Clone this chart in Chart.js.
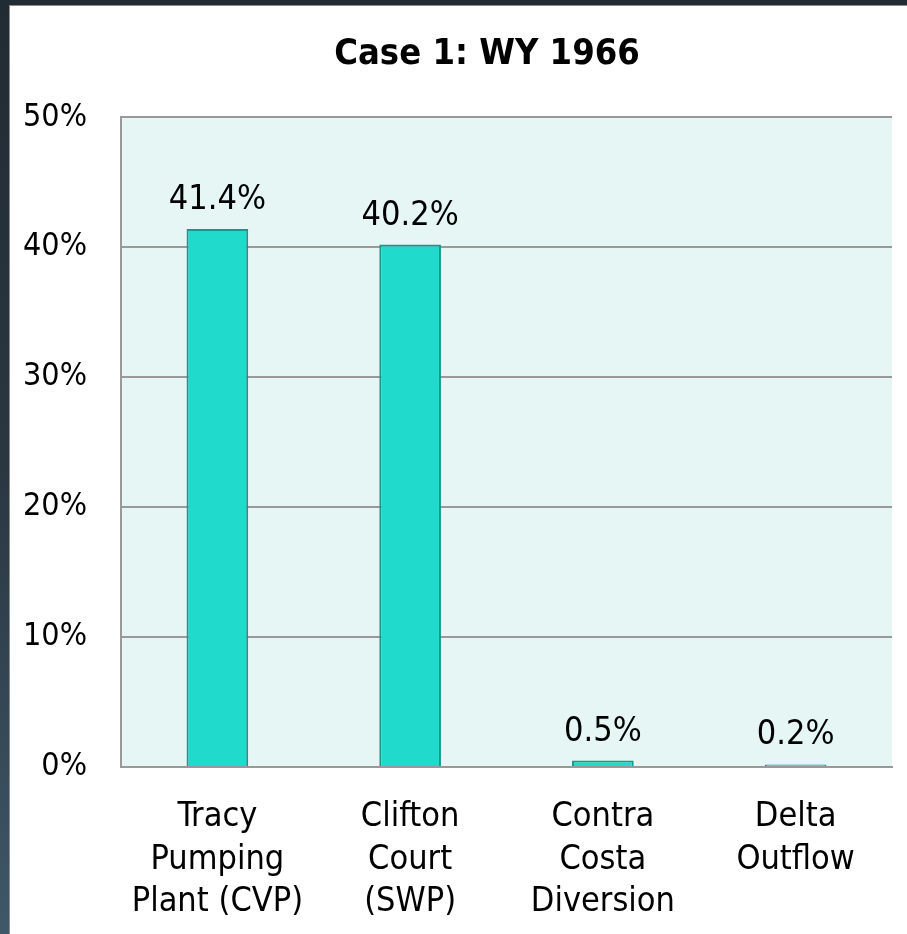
<!DOCTYPE html>
<html>
<head>
<meta charset="utf-8">
<title>Case 1: WY 1966</title>
<script src="https://cdn.jsdelivr.net/npm/chart.js@4"></script>
<style>
  html, body { margin: 0; padding: 0; }
  body {
    width: 907px; height: 934px; overflow: hidden; position: relative;
    background: linear-gradient(to bottom, #212b34 0%, #2a3741 50%, #3f5767 100%);
  }
  #panel {
    position: absolute; left: 9px; top: 5px; width: 960px; height: 940px;
    background: #fff; border-left: 1px solid #8c8c8c; border-top: 1px solid #8c8c8c;
    overflow: hidden;
  }
  #wrap { position: absolute; left: 0; top: 0; width: 954px; height: 929px; }
</style>
</head>
<body>
<div id="panel"><div id="wrap"><canvas id="shareChart"></canvas></div></div>
<script>
const chartTitle = 'Case 1: WY 1966';
const categories = [
  ['Tracy', 'Pumping', 'Plant (CVP)'],
  ['Clifton', 'Court', '(SWP)'],
  ['Contra', 'Costa', 'Diversion'],
  ['Delta', 'Outflow']
];
const shares = [41.4, 40.2, 0.5, 0.2];
const yTicks = [0, 10, 20, 30, 40, 50];

const FONT = "'Liberation Sans Narrow', 'DejaVu Sans Condensed', 'Arial Narrow', sans-serif";

// light cyan fill behind the plot
const plotBackground = {
  id: 'plotBackground',
  beforeDraw(chart) {
    const { ctx, chartArea: a } = chart;
    ctx.save();
    ctx.fillStyle = '#e6f6f5';
    ctx.fillRect(a.left, a.top, a.right - a.left, a.bottom - a.top);
    ctx.restore();
  }
};

// percentage label above each bar
const valueLabels = {
  id: 'valueLabels',
  afterDatasetsDraw(chart) {
    const ctx = chart.ctx;
    const meta = chart.getDatasetMeta(0);
    ctx.save();
    ctx.font = '34px ' + FONT;
    ctx.fillStyle = '#000';
    ctx.textAlign = 'center';
    ctx.textBaseline = 'alphabetic';
    meta.data.forEach((bar, i) => {
      ctx.fillText(shares[i].toFixed(1) + '%', bar.x, bar.y - 20);
    });
    ctx.restore();
  }
};

new Chart(document.getElementById('shareChart'), {
  type: 'bar',
  data: {
    labels: categories,
    datasets: [{
      data: shares,
      backgroundColor: '#20dacb',
      borderColor: '#14998d',
      borderWidth: 2,
      categoryPercentage: 1,
      barPercentage: 0.32
    }]
  },
  options: {
    responsive: true,
    maintainAspectRatio: false,
    animation: false,
    layout: { padding: 0 },
    plugins: {
      legend: { display: false },
      tooltip: { enabled: false },
      title: {
        display: true,
        text: chartTitle,
        color: '#000',
        font: { family: FONT, size: 36, weight: 'bold', lineHeight: 1.2 },
        padding: { top: 27, bottom: 41 }
      }
    },
    scales: {
      x: {
        grid: { display: false, drawTicks: false },
        border: { display: true, color: '#999', width: 2 },
        ticks: {
          color: '#000',
          padding: 29,
          maxRotation: 0,
          autoSkip: false,
          font: { family: FONT, size: 34, lineHeight: 1.25 }
        },
        afterFit(scale) { scale.height = 168; }
      },
      y: {
        min: 0,
        max: 50,
        afterBuildTicks(scale) { scale.ticks = yTicks.map(v => ({ value: v })); },
        grid: { color: '#999', lineWidth: 2, drawTicks: false },
        border: { display: true, color: '#999', width: 2 },
        ticks: {
          color: '#000',
          padding: 34,
          font: { family: FONT, size: 32 },
          callback: (value) => value + '%'
        },
        afterFit(scale) { scale.width = 111; }
      },
      // empty strip on the right so the plot stops short of the edge
      spacer: {
        position: 'right',
        min: 0,
        max: 50,
        grid: { display: false, drawTicks: false },
        border: { display: false },
        ticks: { display: false },
        afterFit(scale) { scale.width = 72; }
      }
    }
  },
  plugins: [plotBackground, valueLabels]
});
</script>
</body>
</html>
